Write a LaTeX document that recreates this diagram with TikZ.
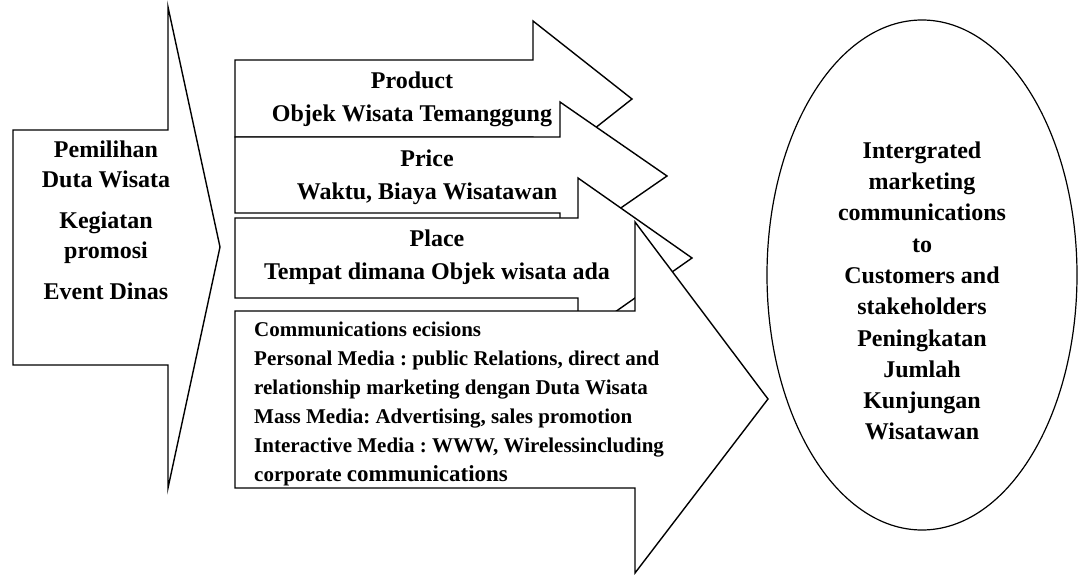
\documentclass[tikz,border=0pt]{standalone}
\usepackage{fontspec}
\setmainfont{Liberation Serif}
\usepackage{tikz}
\usetikzlibrary{positioning, shapes.geometric}
\tikzstyle{blockarrow} = [draw=black, fill=white, line width=1.4pt, line join=miter]
\frenchspacing

\begin{document}
\begin{tikzpicture}[x=1pt, y=-1pt]
    \tikzstyle{every node}=[font=\bfseries\fontsize{24}{30}\selectfont, inner sep=0pt]
    \tikzstyle{midtext} = [align=center, font=\bfseries\fontsize{24}{33}\selectfont]
    \tikzstyle{imc} = [ellipse, draw=black, fill=white, line width=1.2pt, minimum width=310pt, minimum height=510pt]

    \useasboundingbox (0,0) rectangle (1080,575);

    % input arrow
    \draw[blockarrow] (13,130) -- (168,130) -- (168,7) -- (220,247) -- (168,488) -- (168,365) -- (13,365) -- cycle;
    \node[align=center, anchor=north] (pilihan) at (106,141) {Pemilihan\\Duta Wisata\\[11pt]Kegiatan\\promosi\\[11pt]Event Dinas};

    % marketing mix arrows
    \draw[blockarrow] (235,60) -- (533,60) -- (533,21) -- (632,99) -- (533,177) -- (533,137) -- (235,137) -- cycle;
    \node[midtext] (product) at (412,99) {Product\\Objek Wisata Temanggung};

    \draw[blockarrow] (235,137) -- (560,137) -- (560,102) -- (667,176) -- (560,250) -- (560,213) -- (235,213) -- cycle;
    \node[midtext] (price) at (427,177) {Price\\Waktu, Biaya Wisatawan};

    \draw[blockarrow] (235,218) -- (578,218) -- (578,178) -- (692,258) -- (578,338) -- (578,298) -- (235,298) -- cycle;
    \node[midtext] (place) at (437,257) {Place\\Tempat dimana Objek wisata ada};

    \draw[blockarrow] (235,311) -- (635,311) -- (635,222) -- (768,399) -- (635,573) -- (635,488) -- (235,488) -- cycle;
    \node[align=left, anchor=north west, font=\bfseries\fontsize{21}{29}\selectfont] (komunikasi) at (254,322)
        {Communications ecisions\\Personal Media : public Relations, direct and\\relationship marketing dengan Duta Wisata\\Mass Media: Advertising, sales promotion\\Interactive Media : WWW, Wirelessincluding\\corporate {\fontsize{23}{29}\selectfont communications}};

    % result
    \node[imc] (hasil) at (922,275) {};
    \node[align=center, font=\bfseries\fontsize{24}{31.3}\selectfont] (hasilteks) at (922,291)
        {Intergrated\\marketing\\communications\\to\\Customers and\\stakeholders\\Peningkatan\\Jumlah\\Kunjungan\\Wisatawan};
\end{tikzpicture}
\end{document}
